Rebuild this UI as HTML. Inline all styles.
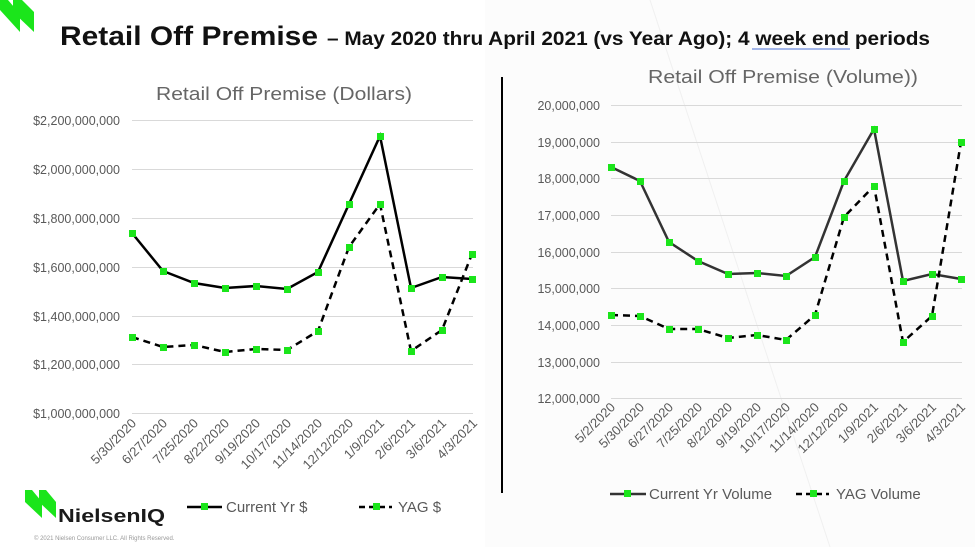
<!DOCTYPE html>
<html><head><meta charset="utf-8"><style>
body{margin:0;width:975px;height:547px;overflow:hidden;background:#fff;font-family:"Liberation Sans",sans-serif}
</style></head><body>
<svg width="975" height="547" viewBox="0 0 975 547" xmlns="http://www.w3.org/2000/svg" font-family="Liberation Sans, sans-serif">
<rect x="0" y="0" width="975" height="547" fill="#fff"/>
<rect x="485" y="0" width="490" height="547" fill="#fcfcfc"/>
<line x1="650" y1="0" x2="830" y2="547" stroke="#f0f0f0" stroke-width="1"/>
<!-- logo top -->
<polygon points="0,0 8,0 20,14 20,32 0,10" fill="#1be51b"/>
<polygon points="13,0 22,0 34,12 34,32 13,12" fill="#1be51b"/>
<text x="60" y="45" font-size="27" font-weight="bold" fill="#111" textLength="258" lengthAdjust="spacingAndGlyphs">Retail Off Premise</text>
<text x="327" y="45" font-size="19" font-weight="bold" fill="#111" textLength="603" lengthAdjust="spacingAndGlyphs">– May 2020 thru April 2021 (vs Year Ago); 4 week end periods</text>
<line x1="752" y1="49" x2="850" y2="49" stroke="#4a6fd6" stroke-width="1"/>
<!-- divider -->
<line x1="502" y1="77" x2="502" y2="493" stroke="#000" stroke-width="2"/>

<!-- LEFT CHART -->
<text x="156" y="100" font-size="18" fill="#666" textLength="256" lengthAdjust="spacingAndGlyphs">Retail Off Premise (Dollars)</text>
<g stroke="#d9d9d9" stroke-width="1">
<line x1="132" y1="120.5" x2="473" y2="120.5"/><line x1="132" y1="169.5" x2="473" y2="169.5"/>
<line x1="132" y1="218.5" x2="473" y2="218.5"/><line x1="132" y1="267.5" x2="473" y2="267.5"/>
<line x1="132" y1="316.5" x2="473" y2="316.5"/><line x1="132" y1="364.5" x2="473" y2="364.5"/>
<line x1="132" y1="413.5" x2="473" y2="413.5"/>
</g>
<g font-size="12.5" fill="#595959" text-anchor="end">
<text x="120" y="125">$2,200,000,000</text><text x="120" y="174">$2,000,000,000</text>
<text x="120" y="223">$1,800,000,000</text><text x="120" y="272">$1,600,000,000</text>
<text x="120" y="321">$1,400,000,000</text><text x="120" y="369">$1,200,000,000</text>
<text x="120" y="418">$1,000,000,000</text>
</g>
<g font-size="13" fill="#595959" text-anchor="end">
<text transform="translate(137,424) rotate(-45)">5/30/2020</text>
<text transform="translate(168,424) rotate(-45)">6/27/2020</text>
<text transform="translate(199,424) rotate(-45)">7/25/2020</text>
<text transform="translate(230,424) rotate(-45)">8/22/2020</text>
<text transform="translate(261,424) rotate(-45)">9/19/2020</text>
<text transform="translate(292,424) rotate(-45)">10/17/2020</text>
<text transform="translate(323,424) rotate(-45)">11/14/2020</text>
<text transform="translate(354,424) rotate(-45)">12/12/2020</text>
<text transform="translate(385,424) rotate(-45)">1/9/2021</text>
<text transform="translate(416,424) rotate(-45)">2/6/2021</text>
<text transform="translate(447,424) rotate(-45)">3/6/2021</text>
<text transform="translate(478,424) rotate(-45)">4/3/2021</text>
</g>
<polyline fill="none" stroke="#000" stroke-width="2.5" points="132,233 163,271 194,283 225,288 256,286 287,289 318,272 349,204 380,136 411,288 442,277 472,279"/>
<polyline fill="none" stroke="#000" stroke-width="2.5" stroke-dasharray="7,5" points="132,337 163,347 194,345 225,352 256,349 287,350 318,331 349,247 380,204 411,351 442,330 472,254"/>
<g fill="#1be51b">
<rect x="129" y="230" width="7" height="7"/><rect x="160" y="268" width="7" height="7"/><rect x="191" y="280" width="7" height="7"/><rect x="222" y="285" width="7" height="7"/><rect x="253" y="283" width="7" height="7"/><rect x="284" y="286" width="7" height="7"/><rect x="315" y="269" width="7" height="7"/><rect x="346" y="201" width="7" height="7"/><rect x="377" y="133" width="7" height="7"/><rect x="408" y="285" width="7" height="7"/><rect x="439" y="274" width="7" height="7"/><rect x="469" y="276" width="7" height="7"/>
<rect x="129" y="334" width="7" height="7"/><rect x="160" y="344" width="7" height="7"/><rect x="191" y="342" width="7" height="7"/><rect x="222" y="349" width="7" height="7"/><rect x="253" y="346" width="7" height="7"/><rect x="284" y="347" width="7" height="7"/><rect x="315" y="328" width="7" height="7"/><rect x="346" y="244" width="7" height="7"/><rect x="377" y="201" width="7" height="7"/><rect x="408" y="348" width="7" height="7"/><rect x="439" y="327" width="7" height="7"/><rect x="469" y="251" width="7" height="7"/>
</g>
<!-- left legend -->
<line x1="187" y1="507" x2="222" y2="507" stroke="#000" stroke-width="2.5"/>
<rect x="201" y="503" width="7" height="7" fill="#1be51b"/>
<text x="226" y="512" font-size="15" fill="#595959">Current Yr $</text>
<line x1="359" y1="507" x2="392" y2="507" stroke="#000" stroke-width="2.5" stroke-dasharray="6,4"/>
<rect x="373" y="503" width="7" height="7" fill="#1be51b"/>
<text x="398" y="512" font-size="15" fill="#595959">YAG $</text>
<!-- NielsenIQ logo -->
<polygon points="25,490 32,490 42,502 42,518 25,502" fill="#1be51b"/>
<polygon points="39,490 46,490 56,502 56,518 39,502" fill="#1be51b"/>
<text x="58" y="522" font-size="18" font-weight="bold" fill="#1a1a1a" textLength="107" lengthAdjust="spacingAndGlyphs">NielsenIQ</text>
<text x="34" y="540" font-size="6" fill="#999">© 2021 Nielsen Consumer LLC. All Rights Reserved.</text>

<!-- RIGHT CHART -->
<text x="648" y="83" font-size="18" fill="#666" textLength="270" lengthAdjust="spacingAndGlyphs">Retail Off Premise (Volume))</text>
<g stroke="#d9d9d9" stroke-width="1">
<line x1="611" y1="105.5" x2="962" y2="105.5"/><line x1="611" y1="142.5" x2="962" y2="142.5"/>
<line x1="611" y1="178.5" x2="962" y2="178.5"/><line x1="611" y1="215.5" x2="962" y2="215.5"/>
<line x1="611" y1="252.5" x2="962" y2="252.5"/><line x1="611" y1="288.5" x2="962" y2="288.5"/>
<line x1="611" y1="325.5" x2="962" y2="325.5"/><line x1="611" y1="362.5" x2="962" y2="362.5"/>
<line x1="611" y1="398.5" x2="962" y2="398.5"/>
</g>
<g font-size="12.5" fill="#595959" text-anchor="end">
<text x="600" y="110">20,000,000</text><text x="600" y="147">19,000,000</text>
<text x="600" y="183">18,000,000</text><text x="600" y="220">17,000,000</text>
<text x="600" y="257">16,000,000</text><text x="600" y="293">15,000,000</text>
<text x="600" y="330">14,000,000</text><text x="600" y="367">13,000,000</text>
<text x="600" y="403">12,000,000</text>
</g>
<g font-size="13" fill="#595959" text-anchor="end">
<text transform="translate(616,408) rotate(-45)">5/2/2020</text>
<text transform="translate(645,408) rotate(-45)">5/30/2020</text>
<text transform="translate(674,408) rotate(-45)">6/27/2020</text>
<text transform="translate(703,408) rotate(-45)">7/25/2020</text>
<text transform="translate(733,408) rotate(-45)">8/22/2020</text>
<text transform="translate(762,408) rotate(-45)">9/19/2020</text>
<text transform="translate(791,408) rotate(-45)">10/17/2020</text>
<text transform="translate(820,408) rotate(-45)">11/14/2020</text>
<text transform="translate(849,408) rotate(-45)">12/12/2020</text>
<text transform="translate(879,408) rotate(-45)">1/9/2021</text>
<text transform="translate(908,408) rotate(-45)">2/6/2021</text>
<text transform="translate(937,408) rotate(-45)">3/6/2021</text>
<text transform="translate(966,408) rotate(-45)">4/3/2021</text>
</g>
<polyline fill="none" stroke="#333" stroke-width="2.5" points="611,167 640,181 669,242 698,261 728,274 757,273 786,276 815,257 844,181 874,129 903,281 932,274 961,279"/>
<polyline fill="none" stroke="#000" stroke-width="2.5" stroke-dasharray="7,5" points="611,315 640,316 669,329 698,329 728,338 757,335 786,340 815,315 844,217 874,186 903,342 932,316 961,142"/>
<g fill="#1be51b">
<rect x="608" y="164" width="7" height="7"/><rect x="637" y="178" width="7" height="7"/><rect x="666" y="239" width="7" height="7"/><rect x="695" y="258" width="7" height="7"/><rect x="725" y="271" width="7" height="7"/><rect x="754" y="270" width="7" height="7"/><rect x="783" y="273" width="7" height="7"/><rect x="812" y="254" width="7" height="7"/><rect x="841" y="178" width="7" height="7"/><rect x="871" y="126" width="7" height="7"/><rect x="900" y="278" width="7" height="7"/><rect x="929" y="271" width="7" height="7"/><rect x="958" y="276" width="7" height="7"/>
<rect x="608" y="312" width="7" height="7"/><rect x="637" y="313" width="7" height="7"/><rect x="666" y="326" width="7" height="7"/><rect x="695" y="326" width="7" height="7"/><rect x="725" y="335" width="7" height="7"/><rect x="754" y="332" width="7" height="7"/><rect x="783" y="337" width="7" height="7"/><rect x="812" y="312" width="7" height="7"/><rect x="841" y="214" width="7" height="7"/><rect x="871" y="183" width="7" height="7"/><rect x="900" y="339" width="7" height="7"/><rect x="929" y="313" width="7" height="7"/><rect x="958" y="139" width="7" height="7"/>
</g>
<!-- right legend -->
<line x1="610" y1="494" x2="646" y2="494" stroke="#333" stroke-width="2.5"/>
<rect x="624" y="490" width="7" height="7" fill="#1be51b"/>
<text x="649" y="499" font-size="15" fill="#595959">Current Yr Volume</text>
<line x1="796" y1="494" x2="829" y2="494" stroke="#000" stroke-width="2.5" stroke-dasharray="6,4"/>
<rect x="810" y="490" width="7" height="7" fill="#1be51b"/>
<text x="836" y="499" font-size="15" fill="#595959">YAG Volume</text>
</svg>
</body></html>
